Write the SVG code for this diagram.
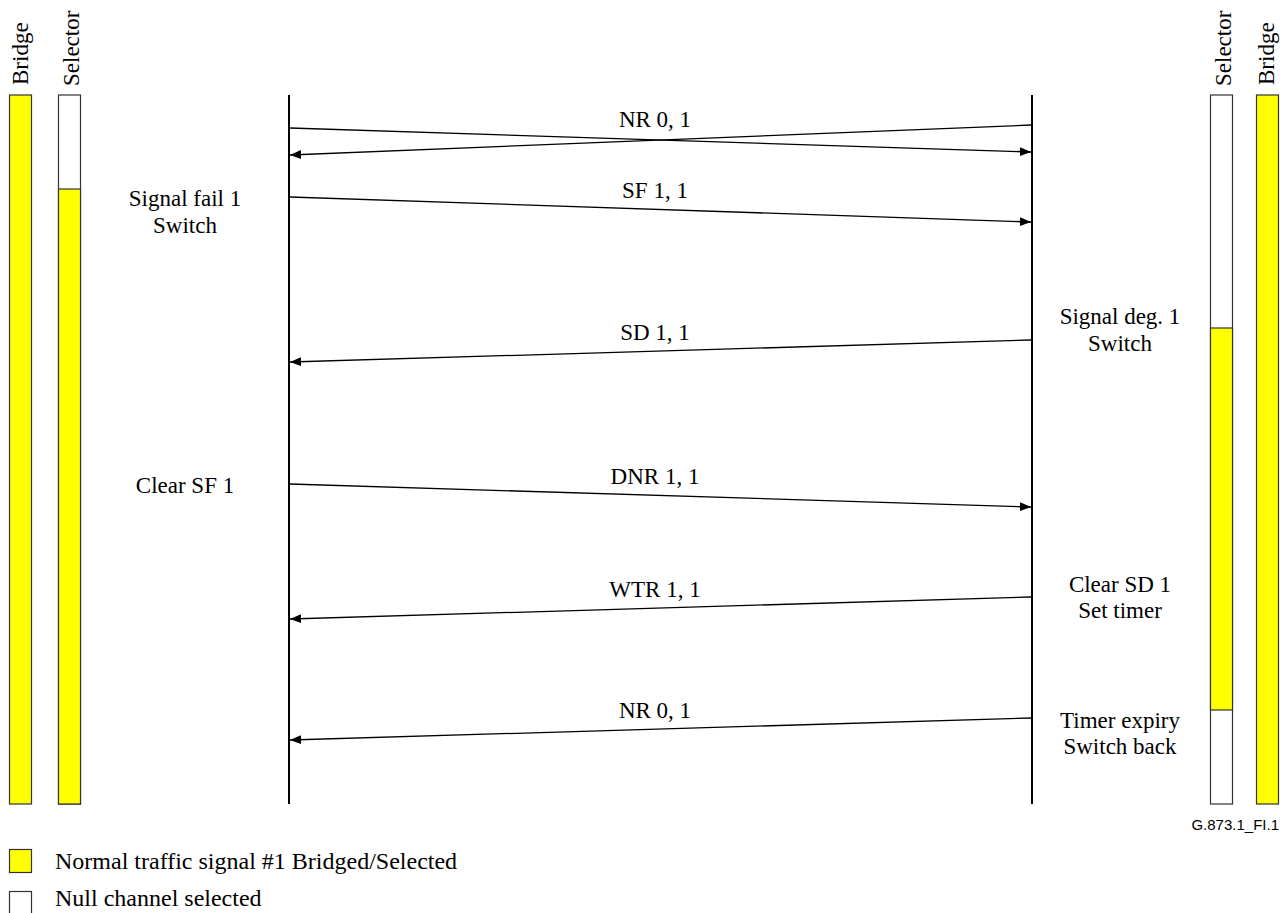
<svg xmlns="http://www.w3.org/2000/svg" width="1288" height="913" viewBox="0 0 1288 913">
<defs>
<style>
.t{font-family:"Liberation Serif","Times New Roman",serif;font-size:23px;fill:#000}
.lg{font-size:24px}
.c{text-anchor:middle}
.bar{stroke:#333;stroke-width:1.2}
.y{fill:#ffff00}
.w{fill:#fff}
.life{stroke:#000;stroke-width:2}
.msg{stroke:#000;stroke-width:1.3;fill:none;marker-end:url(#ah)}
</style>
<marker id="ah" markerUnits="userSpaceOnUse" markerWidth="12" markerHeight="9" refX="11" refY="4.5" orient="auto">
<path d="M0,0 L11,4.5 L0,9 z" fill="#000"/>
</marker>
</defs>
<rect width="1288" height="913" fill="#fff"/>

<g id="left-bridge">
<text class="t" transform="translate(28,85) rotate(-90)">Bridge</text>
<rect class="bar y" x="9.5" y="95" width="22" height="709"/>
</g>
<g id="left-selector">
<text class="t" transform="translate(79,86) rotate(-90)">Selector</text>
<rect class="bar w" x="58.5" y="95" width="22" height="709"/>
<rect class="bar y" x="58.5" y="189" width="22" height="615"/>
</g>
<g id="right-selector">
<text class="t" transform="translate(1231,86) rotate(-90)">Selector</text>
<rect class="bar w" x="1210.5" y="95" width="22" height="709"/>
<rect class="bar y" x="1210.5" y="328" width="22" height="382"/>
</g>
<g id="right-bridge">
<text class="t" transform="translate(1274,85) rotate(-90)">Bridge</text>
<rect class="bar y" x="1256.5" y="95" width="22" height="709"/>
</g>

<g id="lifelines">
<line class="life" x1="289" y1="95" x2="289" y2="804"/>
<line class="life" x1="1032" y1="95" x2="1032" y2="804"/>
</g>

<g id="left-events">
<text class="t c" x="185" y="206">Signal fail 1</text>
<text class="t c" x="185" y="233">Switch</text>
<text class="t c" x="185" y="493">Clear SF 1</text>
</g>
<g id="right-events">
<text class="t c" x="1120" y="324">Signal deg. 1</text>
<text class="t c" x="1120" y="351">Switch</text>
<text class="t c" x="1120" y="592">Clear SD 1</text>
<text class="t c" x="1120" y="618">Set timer</text>
<text class="t c" x="1120" y="728">Timer expiry</text>
<text class="t c" x="1120" y="754">Switch back</text>
</g>

<g id="connectors">
<line class="msg" x1="290" y1="128" x2="1031" y2="152"/>
<line class="msg" x1="1031" y1="125" x2="290" y2="155"/>
<line class="msg" x1="290" y1="197" x2="1031" y2="222"/>
<line class="msg" x1="1031" y1="340" x2="290" y2="362"/>
<line class="msg" x1="290" y1="484" x2="1031" y2="507"/>
<line class="msg" x1="1031" y1="597" x2="290" y2="619"/>
<line class="msg" x1="1031" y1="718" x2="290" y2="740"/>
<text class="t c" x="655" y="127">NR 0, 1</text>
<text class="t c" x="655" y="198">SF 1, 1</text>
<text class="t c" x="655" y="340">SD 1, 1</text>
<text class="t c" x="655" y="484">DNR 1, 1</text>
<text class="t c" x="655" y="597">WTR 1, 1</text>
<text class="t c" x="655" y="718">NR 0, 1</text>
</g>

<text x="1279" y="830" text-anchor="end" font-family="Liberation Sans, Arial, sans-serif" font-size="15" fill="#000">G.873.1_FI.1</text>

<g id="legend">
<rect class="bar y" x="9.5" y="849.5" width="22" height="23"/>
<text class="t lg" x="55" y="869">Normal traffic signal #1 Bridged/Selected</text>
<rect class="bar w" x="9.5" y="891.5" width="22" height="23"/>
<text class="t lg" x="55" y="906">Null channel selected</text>
</g>
</svg>
